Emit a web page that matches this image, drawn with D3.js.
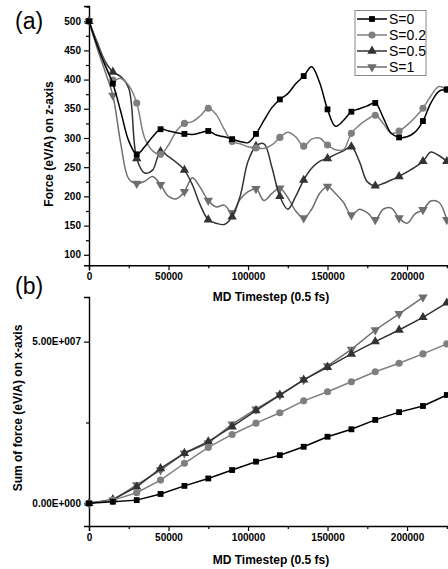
<!DOCTYPE html>
<html>
<head>
<meta charset="utf-8">
<script src="https://cdn.jsdelivr.net/npm/d3@7"></script>
<style>
  body { margin: 0; background: #fff; }
  svg { display: block; font-family: "Liberation Sans", Arial, sans-serif; }
  .tick text { font-weight: bold; font-size: 10px; }
</style>
</head>
<body>
<div class="chart"></div>
<script>
// panel (a) - force on z-axis, sampled every 5000 steps
var stepsA = [0, 5000, 10000, 15000, 20000, 25000, 30000, 35000, 40000, 45000,
  50000, 55000, 60000, 65000, 70000, 75000, 80000, 85000, 90000, 95000,
  100000, 105000, 110000, 115000, 120000, 125000, 130000, 135000, 140000, 145000,
  150000, 155000, 160000, 165000, 170000, 175000, 180000, 185000, 190000, 195000,
  200000, 205000, 210000, 215000, 220000, 225000];

var forceS0 = [500, 460, 425, 393, 345, 295, 272, 285, 302, 315,
  312, 309, 307, 306, 309, 312, 305, 302, 298, 294,
  292, 307, 330, 352, 366, 376, 393, 406, 422, 395,
  349, 320, 330, 345, 350, 355, 360, 335, 308, 301,
  302, 310, 329, 360, 380, 383];
var forceS02 = [500, 462, 428, 399, 402, 390, 360, 300, 278, 272,
  288, 312, 325, 328, 338, 351, 340, 315, 294, 290,
  285, 283, 282, 288, 301, 310, 302, 286, 298, 300,
  288, 280, 280, 308, 322, 332, 339, 325, 308, 312,
  322, 335, 351, 372, 388, 383];
var forceS05 = [500, 465, 432, 413, 405, 385, 265, 240, 245, 277,
  268, 258, 245, 220, 185, 160, 154, 152, 165, 200,
  260, 286, 290, 250, 200, 178, 200, 228, 248, 260,
  265, 272, 278, 285, 260, 225, 218, 222, 228, 234,
  242, 250, 260, 276, 270, 260];
var forceS1 = [500, 455, 415, 373, 290, 230, 222, 226, 234, 220,
  200, 196, 208, 232, 215, 193, 182, 185, 172, 195,
  208, 213, 193, 205, 214, 198, 175, 163, 178, 205,
  217, 205, 190, 168, 178, 172, 160, 178, 180, 163,
  154, 170, 177, 192, 190, 160];

// panel (b) - cumulative force on x-axis, every 15000 steps
var stepsB = [0, 15000, 30000, 45000, 60000, 75000, 90000, 105000,
  120000, 135000, 150000, 165000, 180000, 195000, 210000, 225000];
var sumS0 = [0, 0.05e7, 0.1e7, 0.29e7, 0.54e7, 0.77e7, 1.03e7, 1.29e7,
  1.49e7, 1.75e7, 2.06e7, 2.29e7, 2.58e7, 2.82e7, 3.01e7, 3.35e7];
var sumS02 = [0, 0.1e7, 0.33e7, 0.72e7, 1.24e7, 1.73e7, 2.13e7, 2.48e7,
  2.8e7, 3.17e7, 3.45e7, 3.76e7, 4.07e7, 4.33e7, 4.62e7, 4.93e7];
var sumS05 = [0, 0.12e7, 0.51e7, 1.08e7, 1.55e7, 1.91e7, 2.37e7, 2.87e7,
  3.35e7, 3.82e7, 4.21e7, 4.62e7, 5.0e7, 5.36e7, 5.75e7, 6.2e7];
var sumS1 = [0, 0.1e7, 0.57e7, 1.03e7, 1.55e7, 1.86e7, 2.45e7, 2.91e7,
  3.35e7, 3.82e7, 4.25e7, 4.76e7, 5.36e7, 5.86e7, 6.37e7];

var seriesNames = ["S=0", "S=0.2", "S=0.5", "S=1"];
var seriesColors = ["#000000", "#7f7f7f", "#333333", "#6e6e6e"];
var seriesSymbols = ["square", "circle", "up", "down"];

var xTicksMajor = [0, 50000, 100000, 150000, 200000];
var xTicksMinor = [25000, 75000, 125000, 175000, 225000];
var yTicksA = [100, 150, 200, 250, 300, 350, 400, 450, 500];
var yMinorA = [125, 175, 225, 275, 325, 375, 425, 475, 525];
var yTicksB = [0, 5e7];
var yMinorB = [2.5e7];

var svg = d3.select(".chart").append("svg")
  .attr("width", 448)
  .attr("height", 569);

// marker drawing
function symbolPath(kind) {
  if (kind == "square") return d3.symbol(d3.symbolSquare, 34)();
  if (kind == "circle") return d3.symbol(d3.symbolCircle, 40)();
  return d3.symbol(d3.symbolTriangle, 38)();
}
function addMarker(g, kind, color, x, y) {
  g.append("path")
    .attr("d", symbolPath(kind))
    .attr("transform", `translate(${x},${y})` + (kind == "down" ? " rotate(180)" : ""))
    .attr("fill", color);
}

function drawAxes(g, x, y, yMajor, yMinor, yFormat, xAxisY) {
  // x axis
  var xa = g.append("g").attr("transform", `translate(0,${xAxisY})`)
    .call(d3.axisBottom(x).tickValues(xTicksMajor).tickSize(5).tickPadding(3).tickFormat(d3.format("d")));
  g.append("g").attr("transform", `translate(0,${xAxisY})`)
    .call(d3.axisBottom(x).tickValues(xTicksMinor).tickSize(3).tickFormat(""))
    .select(".domain").remove();
  // y axis
  var ya = g.append("g").attr("transform", `translate(${x.range()[0]},0)`)
    .call(d3.axisLeft(y).tickValues(yMajor).tickSize(5).tickPadding(3).tickFormat(yFormat));
  g.append("g").attr("transform", `translate(${x.range()[0]},0)`)
    .call(d3.axisLeft(y).tickValues(yMinor.filter(v => v >= y.domain()[0] && v <= y.domain()[1])).tickSize(3).tickFormat(""))
    .select(".domain").remove();
  g.selectAll(".domain").attr("stroke-width", 1.4);
  g.selectAll(".tick line").attr("stroke-width", 1.2);
  g.selectAll("text").attr("fill", "#000");
  return [xa, ya];
}

// ---------------- panel (a)
var xA = d3.scaleLinear().domain([0, 226000]).range([89, 448.4]);
var yA = d3.scaleLinear().domain([82, 526]).range([265.3, 6]);
var gA = svg.append("g");
drawAxes(gA, xA, yA, yTicksA, yMinorA, d3.format("d"), 265.3);

var forceSeries = [forceS0, forceS02, forceS05, forceS1];
var lineA = d3.line()
  .x((d, i) => xA(stepsA[i]))
  .y(d => yA(d))
  .curve(d3.curveCatmullRom.alpha(0.5));

// draw in reverse so S=0 sits on top
[3, 2, 1, 0].forEach(function(k) {
  gA.append("path")
    .datum(forceSeries[k])
    .attr("d", lineA)
    .attr("fill", "none")
    .attr("stroke", seriesColors[k])
    .attr("stroke-width", 1.5);
  forceSeries[k].forEach(function(v, i) {
    if (stepsA[i] % 15000 == 0) addMarker(gA, seriesSymbols[k], seriesColors[k], xA(stepsA[i]), yA(v));
  });
});

// legend
var leg = gA.append("g");
leg.append("rect")
  .attr("x", 355).attr("y", 10.5).attr("width", 71).attr("height", 65)
  .attr("fill", "#fff").attr("stroke", "#8a8a8a").attr("stroke-width", 1);
seriesNames.forEach(function(name, k) {
  var ly = 19 + k * 16;
  leg.append("line")
    .attr("x1", 357).attr("x2", 387).attr("y1", ly).attr("y2", ly)
    .attr("stroke", seriesColors[k]).attr("stroke-width", 1.5);
  addMarker(leg, seriesSymbols[k], seriesColors[k], 372, ly);
  leg.append("text")
    .attr("x", 389).attr("y", ly + 5)
    .attr("font-size", "14px")
    .text(name);
});

gA.append("text")
  .attr("x", 15).attr("y", 29)
  .attr("font-size", "23px")
  .text("(a)");
gA.append("text")
  .attr("x", 271).attr("y", 301)
  .attr("text-anchor", "middle")
  .attr("font-size", "12px").attr("font-weight", "bold")
  .text("MD Timestep (0.5 fs)");
gA.append("text")
  .attr("transform", "translate(53,144) rotate(-90)")
  .attr("text-anchor", "middle")
  .attr("font-size", "12px").attr("font-weight", "bold")
  .text("Force (eV/A) on z-axis");

// ---------------- panel (b)
var xB = xA.copy();
var yB = d3.scaleLinear().domain([-0.70e7, 6.38e7]).range([526, 297]);
var gB = svg.append("g");
drawAxes(gB, xB, yB, yTicksB, yMinorB, d => d == 0 ? "0.00E+000" : "5.00E+007", 526);

var sumSeries = [sumS0, sumS02, sumS05, sumS1];
var lineB = d3.line()
  .x((d, i) => xB(stepsB[i]))
  .y(d => yB(d));

[3, 2, 1, 0].forEach(function(k) {
  gB.append("path")
    .datum(sumSeries[k])
    .attr("d", lineB)
    .attr("fill", "none")
    .attr("stroke", seriesColors[k])
    .attr("stroke-width", 1.5);
  sumSeries[k].forEach(function(v, i) {
    addMarker(gB, seriesSymbols[k], seriesColors[k], xB(stepsB[i]), yB(v));
  });
});

gB.append("text")
  .attr("x", 15).attr("y", 294)
  .attr("font-size", "23px")
  .text("(b)");
gB.append("text")
  .attr("x", 271).attr("y", 564)
  .attr("text-anchor", "middle")
  .attr("font-size", "12px").attr("font-weight", "bold")
  .text("MD Timestep (0.5 fs)");
gB.append("text")
  .attr("transform", "translate(22,408) rotate(-90)")
  .attr("text-anchor", "middle")
  .attr("font-size", "12px").attr("font-weight", "bold")
  .text("Sum of force (eV/A) on x-axis");
</script>
</body>
</html>
